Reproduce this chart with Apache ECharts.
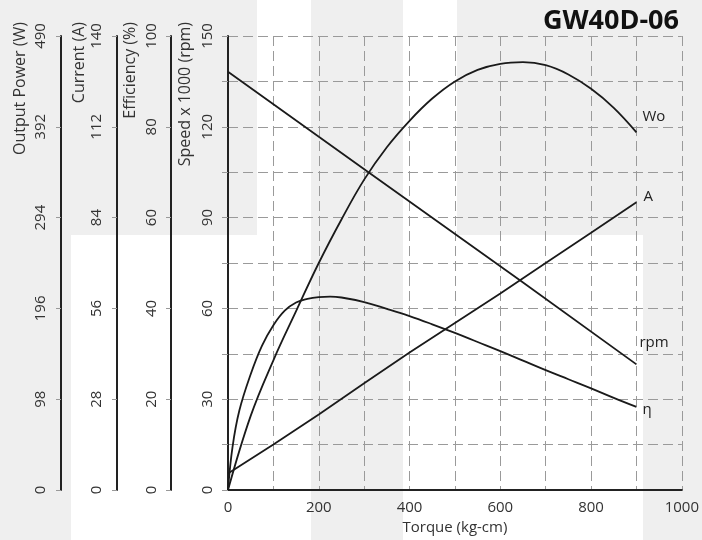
<!DOCTYPE html>
<html>
<head>
<meta charset="utf-8">
<script src="https://cdn.jsdelivr.net/npm/echarts@6/dist/echarts.min.js"></script>
<style>
html,body{margin:0;padding:0;background:#fff;}
#chart{width:702px;height:540px;}
</style>
</head>
<body>
<div id="chart"></div>
<script>
// ---- Data ----
const speedTicks = [0, 30, 60, 90, 120, 150];
const efficiencyTicks = [0, 20, 40, 60, 80, 100];
const currentTicks = [0, 28, 56, 84, 112, 140];
const powerTicks = [0, 98, 196, 294, 392, 490];

// Output power (W) vs torque (kg-cm)
const torqueWo = [0, 50, 100, 150, 200, 250, 300, 350, 400, 450, 500, 550, 600, 650, 700, 750, 800, 850, 900];
const outputPowerW = [0, 80, 140, 193, 245, 292, 335, 370, 398.5, 422.5, 441, 453.5, 460, 461.8, 458.5, 448.5, 433, 412.5, 386];

// Current (A)
const torqueA = [0, 100, 200, 300, 400, 500, 600, 700, 800, 900];
const currentA = [5.1, 14.0, 23.3, 32.9, 42.4, 51.5, 60.6, 70.0, 79.3, 88.7];

// Efficiency (%)
const torqueEta = [0, 10, 25, 50, 75, 100, 125, 150, 175, 200, 225, 250, 300, 350, 400, 450, 500, 550, 600, 650, 700, 750, 800, 850, 900];
const efficiencyPct = [0, 9.5, 17.5, 25.5, 31.8, 36.3, 39.5, 41.3, 42.1, 42.5, 42.6, 42.4, 41.4, 39.9, 38.3, 36.5, 34.6, 32.6, 30.6, 28.5, 26.4, 24.4, 22.4, 20.3, 18.3];

// Speed x 1000 (rpm)
const torqueRpm = [0, 311, 644, 900];
const speedK = [138.2, 104.8, 69.2, 41.5];

const seriesNames = ['Wo', 'A', 'η', 'rpm'];

// ---- Build chart ----
const FONT = 'Open Sans';
const TXT = '#333';
const LINE = '#1a1a1a';
const GRID_LINE = {type: [10, 5], color: '#9a9a9a', width: 1};

function pairs(xs, ys, label, off) {
  return xs.map((x, i) => {
    if (i === xs.length - 1) {
      return {value: [x, ys[i]], label: {show: true, formatter: label, position: 'right', distance: 0, offset: off,
        color: '#222', fontFamily: FONT, fontSize: 15}};
    }
    return [x, ys[i]];
  });
}

function sideAxis(ticks, offset, margin) {
  return {
    type: 'value', position: 'left', offset: offset,
    min: ticks[0], max: ticks[ticks.length - 1], interval: ticks[1] - ticks[0],
    axisLine: {show: true, onZero: false, lineStyle: {color: '#222', width: 2}},
    axisTick: {show: true, length: 5, lineStyle: {color: '#999', width: 1}},
    axisLabel: {rotate: 90, margin: margin, color: TXT, fontFamily: FONT, fontSize: 15},
    splitLine: {show: false}
  };
}

const chart = echarts.init(document.getElementById('chart'), null, {renderer: 'canvas'});

const bgRects = [
  [0, 0, 71, 540], [0, 0, 257, 235], [311, 0, 92, 540], [457, 0, 245, 235], [643, 0, 59, 540]
].map(r => ({type: 'rect', silent: true, z: -100, shape: {x: r[0], y: r[1], width: r[2], height: r[3]}, style: {fill: '#efefef'}}));

function vName(text, x) {
  return {type: 'text', silent: true, x: x, y: 22, rotation: Math.PI / 2,
    style: {text: text, fill: TXT, font: '16px "' + FONT + '"', align: 'right', verticalAlign: 'middle',
      textAlign: 'right', textVerticalAlign: 'middle'}};
}

const option = {
  animation: false,
  backgroundColor: '#fff',
  title: {
    text: 'GW40D-06', right: 23, top: 8, padding: 0,
    textStyle: {fontFamily: FONT, fontSize: 27, fontWeight: 'bold', color: '#111'}
  },
  graphic: bgRects.concat([
    vName('Output Power (W)', 20),
    vName('Current (A)', 79),
    vName('Efficiency (%)', 130),
    vName('Speed x 1000 (rpm)', 185)
  ]),
  grid: {left: 228, right: 20, top: 36, bottom: 50, containLabel: false},
  xAxis: {
    type: 'value', min: 0, max: 1000, interval: 200,
    name: 'Torque (kg-cm)', nameLocation: 'middle', nameGap: 27,
    nameTextStyle: {color: TXT, fontFamily: FONT, fontSize: 15},
    axisLine: {show: true, onZero: false, lineStyle: {color: '#222', width: 2}},
    axisTick: {show: false},
    axisLabel: {margin: 10, color: TXT, fontFamily: FONT, fontSize: 15, formatter: v => String(v)},
    splitLine: {show: true, lineStyle: GRID_LINE},
    minorTick: {show: false, splitNumber: 2},
    minorSplitLine: {show: true, lineStyle: GRID_LINE}
  },
  yAxis: [
    {
      type: 'value', position: 'left', offset: 0,
      min: speedTicks[0], max: speedTicks[speedTicks.length - 1], interval: speedTicks[1] - speedTicks[0],
      axisLine: {show: true, onZero: false, lineStyle: {color: '#222', width: 2}},
      axisTick: {show: true, length: 6, lineStyle: {color: '#999', width: 1}},
      minorTick: {show: true, splitNumber: 2, length: 6, lineStyle: {color: '#999', width: 1}},
      axisLabel: {rotate: 90, margin: 13, color: TXT, fontFamily: FONT, fontSize: 15},
      splitLine: {show: true, lineStyle: GRID_LINE},
      minorSplitLine: {show: true, lineStyle: GRID_LINE}
    },
    sideAxis(efficiencyTicks, 57, 12),
    sideAxis(currentTicks, 111, 13),
    sideAxis(powerTicks, 167, 13)
  ],
  series: [
    {name: seriesNames[0], type: 'line', yAxisIndex: 3, smooth: 0.4, showSymbol: true, symbolSize: 0,
      lineStyle: {color: LINE, width: 1.8}, itemStyle: {color: LINE},
      data: pairs(torqueWo, outputPowerW, 'Wo', [6, -16])},
    {name: seriesNames[1], type: 'line', yAxisIndex: 2, smooth: false, showSymbol: true, symbolSize: 0,
      lineStyle: {color: LINE, width: 1.8}, itemStyle: {color: LINE},
      data: pairs(torqueA, currentA, 'A', [7, -6])},
    {name: seriesNames[2], type: 'line', yAxisIndex: 1, smooth: 0.4, showSymbol: true, symbolSize: 0,
      lineStyle: {color: LINE, width: 1.8}, itemStyle: {color: LINE},
      data: pairs(torqueEta, efficiencyPct, 'η', [6, 3])},
    {name: seriesNames[3], type: 'line', yAxisIndex: 0, smooth: false, showSymbol: true, symbolSize: 0,
      lineStyle: {color: LINE, width: 1.8}, itemStyle: {color: LINE},
      data: pairs(torqueRpm, speedK, 'rpm', [3, -22])}
  ]
};
chart.setOption(option);
</script>
</body>
</html>
